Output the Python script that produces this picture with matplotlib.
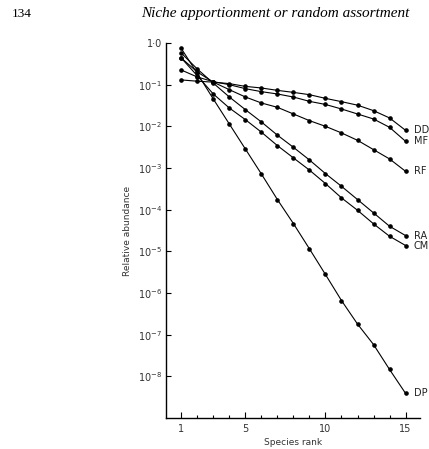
import matplotlib
matplotlib.use("Agg")
import matplotlib.pyplot as plt
from matplotlib.ticker import FixedLocator, NullFormatter, FixedFormatter

ranks = list(range(1, 16))

DD = [0.130, 0.121, 0.115, 0.106, 0.091, 0.0833, 0.0730, 0.0653, 0.0575,
      0.0469, 0.0391, 0.0322, 0.0238, 0.0159, 0.00802]
MF = [0.225, 0.153, 0.118, 0.100, 0.0802, 0.0680, 0.0598, 0.0505, 0.0398,
      0.0335, 0.0261, 0.0198, 0.0150, 0.00946, 0.00437]
RF = [0.437, 0.202, 0.115, 0.0759, 0.0507, 0.0364, 0.0286, 0.0198, 0.0137,
      0.0100, 0.00695, 0.00462, 0.00276, 0.00165, 0.000833]
RA = [0.575, 0.238, 0.109, 0.0507, 0.0252, 0.01275, 0.00615, 0.00314,
      0.00156, 0.000734, 0.000364, 0.000175, 8.38e-5, 4.0e-5, 2.39e-5]
CM = [0.437, 0.164, 0.0598, 0.0276, 0.0145, 0.00726, 0.00345, 0.00175,
      0.000891, 0.000423, 0.000192, 9.68e-5, 4.57e-5, 2.30e-5, 1.38e-5]
DP = [0.742, 0.187, 0.0454, 0.0114, 0.00287, 7.22e-4, 1.75e-4, 4.64e-5,
      1.15e-5, 2.78e-6, 6.6e-7, 1.8e-7, 5.8e-8, 1.46e-8, 3.9e-9]

series = [("DD", DD), ("MF", MF), ("RF", RF), ("RA", RA), ("CM", CM), ("DP", DP)]

ytick_vals = [1.0, 1e-1, 1e-2, 1e-3, 1e-4, 1e-5, 1e-6, 1e-7, 1e-8]
ytick_labels = ["1·0"] + [r"10$^{-%d}$" % k for k in range(1, 9)]
xtick_major = [1, 5, 10, 15]
xtick_labels = ["1", "5", "10", "15"]

fig = plt.figure(figsize=(4.29, 4.49), dpi=100)
ax = fig.add_axes([166/429, 1-418/449, (420-166)/429, (418-43)/449])

for name, vals in series:
    ax.plot(ranks, vals, color="black", lw=0.8, marker="o", ms=2.3,
            mfc="black", mec="black", clip_on=False)
    ax.annotate(name, (ranks[-1], vals[-1]), xytext=(6, 0),
                textcoords="offset points", va="center", ha="left",
                fontsize=7, color="#222222")

ax.set_yscale("log")
ax.set_ylim(1e-9, 1.0)
ax.set_xlim(0.05, 15.9)

ax.spines["top"].set_visible(False)
ax.spines["right"].set_visible(False)
for s in ("left", "bottom"):
    ax.spines[s].set_linewidth(1.0)

ax.yaxis.set_major_locator(FixedLocator(ytick_vals))
ax.yaxis.set_major_formatter(FixedFormatter(ytick_labels))
ax.yaxis.set_minor_locator(FixedLocator([]))
ax.yaxis.set_minor_formatter(NullFormatter())
ax.tick_params(axis="y", direction="in", length=3.5, width=0.8, labelsize=7,
               pad=3, labelcolor="#333333")

ax.xaxis.set_major_locator(FixedLocator(xtick_major))
ax.xaxis.set_major_formatter(FixedFormatter(xtick_labels))
ax.xaxis.set_minor_locator(FixedLocator([r for r in ranks if r not in xtick_major]))
ax.tick_params(axis="x", which="major", direction="in", length=4, width=0.8,
               labelsize=7, pad=4, labelcolor="#333333")
ax.tick_params(axis="x", which="minor", direction="in", length=2.5, width=0.8)

ax.set_xlabel("Species rank", fontsize=6.5, color="#333333", labelpad=3)
ax.set_ylabel("Relative abundance", fontsize=6.5, color="#333333", labelpad=4)

fig.text(12/429, 1-14/449, "134", fontsize=9.5, family="Liberation Serif",
         va="center", ha="left")
fig.text(275/429, 1-14/449, "Niche apportionment or random assortment",
         fontsize=11, family="Liberation Serif", style="italic",
         va="center", ha="center")

fig.savefig("out.png", dpi=100)
